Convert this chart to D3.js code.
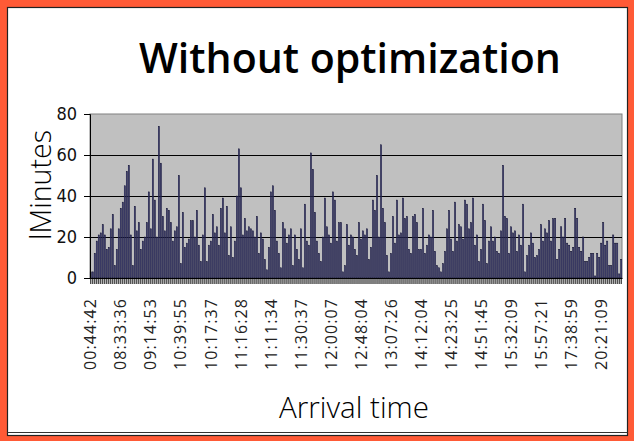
<!DOCTYPE html>
<html><head><meta charset="utf-8">
<script src="https://cdn.jsdelivr.net/npm/d3@7"></script>
<style>body{margin:0;background:#fff}svg{display:block}</style>
</head><body>
<script>
const values = [3,3,12,18,21,22,26,21,14,15,
24,31,6,14,24,34,37,45,52,55,
21,6,35,23,27,14,18,20,27,42,
24,58,38,20,74,56,30,
23,34,33,27,18,23,25,50,7,32,
15,17,19,28,28,20,33,16,8,21,
44,8,16,18,31,22,25,16,34,39,
22,35,11,25,10,18,40,63,44,21,29,
23,25,24,23,20,30,12,22,19,9,4,15,
42,45,33,18,12,5,27,24,17,21,
24,6,21,14,9,24,5,36,18,16,61,53,
32,18,12,8,20,39,25,21,17,42,38,18,
27,27,3,6,26,16,21,20,14,11,27,
19,23,21,24,9,15,38,33,50,20,65,
34,27,11,3,12,30,17,38,21,22,39,29,
30,14,12,30,31,27,14,14,34,12,16,
21,20,33,13,6,5,3,7,13,24,
33,19,13,37,18,26,25,19,38,36,
24,27,39,16,21,8,14,36,28,7,18,
25,18,20,13,12,23,55,30,29,12,
25,22,23,13,21,16,36,3,11,16,
22,17,10,11,14,26,18,24,22,28,18,
29,29,9,14,25,20,29,17,16,13,
15,34,29,15,13,20,8,8,10,12,
12,1,12,10,17,27,16,18,6,6,
21,17,17,2,9];
const tickLabels = ["00:44:42","08:33:36","09:14:53","10:39:55","10:17:37","11:16:28","11:11:34","11:30:37","12:00:07","12:48:04","13:07:26","14:12:04","14:23:25","14:51:45","15:32:09","15:57:21","17:38:59","20:21:09"];
const yTicks = [0,20,40,60,80];
const title = "Without optimization";
const yTitle = "lMinutes";
const xTitle = "Arrival time";

const W = 634, H = 441;
const N = values.length;
const labelStep = 15;
const cats = d3.range(N);
const catName = i => (i % labelStep === 0 && i/labelStep < tickLabels.length) ? tickLabels[i/labelStep] : "";

const svg = d3.select("body").append("svg").attr("width", W).attr("height", H);
svg.append("rect").attr("width", W).attr("height", H).attr("fill", "#FF5A36");
svg.append("rect").attr("x", 7.5).attr("y", 7.5).attr("width", 620).attr("height", 428)
  .attr("fill", "#fff").attr("stroke", "#222").attr("stroke-width", 1.2);
svg.append("line").attr("x1", 7.5).attr("x2", 627.5).attr("y1", 432.5).attr("y2", 432.5).attr("stroke", "#333");

const pl = 90, pr = 622, pt = 114, pb = 278;
const x = d3.scaleBand().domain(cats).range([pl, pr]).paddingInner(0.4).paddingOuter(0.1);
const y = d3.scaleLinear().domain([0, 80]).range([pb, pt]);

svg.append("rect").attr("x", pl).attr("y", pt).attr("width", pr - pl).attr("height", pb - pt)
  .attr("fill", "#c0c0c0").attr("stroke", "#808080").attr("stroke-width", 1);

svg.append("g").selectAll("line").data(yTicks.filter(d => d > 0 && d < 80)).join("line")
  .attr("x1", pl).attr("x2", pr).attr("y1", d => Math.round(y(d)) + 0.5).attr("y2", d => Math.round(y(d)) + 0.5)
  .attr("stroke", "#000").attr("stroke-width", 1);

svg.append("g").selectAll("rect").data(values).join("rect")
  .attr("x", (d, i) => x(i)).attr("width", x.bandwidth())
  .attr("y", d => y(d)).attr("height", d => pb - y(d))
  .attr("fill", "#45458a").attr("stroke", "#10102a").attr("stroke-width", 0.5);

const yAxis = svg.append("g").attr("transform", `translate(${pl},0)`)
  .call(d3.axisLeft(y).tickValues(yTicks).tickSize(6).tickPadding(7));
yAxis.select(".domain").attr("stroke", "#000");
yAxis.selectAll(".tick line").attr("stroke", "#000");
yAxis.selectAll("text").attr("font-family", "'DejaVu Sans Condensed', 'DejaVu Sans'").attr("font-size", 18).attr("fill", "#111");

const xAxis = svg.append("g").attr("transform", `translate(0,${pb})`)
  .call(d3.axisBottom(x).tickFormat(catName).tickSize(6).tickSizeOuter(0));
xAxis.select(".domain").attr("stroke", "#000");
xAxis.selectAll(".tick line").attr("stroke", "#000").attr("stroke-width", 1);
xAxis.selectAll("text")
  .attr("font-family", "'Open Sans', 'DejaVu Sans'").attr("font-weight", 400).attr("font-size", 16)
  .attr("letter-spacing", "1.1px").attr("fill", "#222")
  .attr("transform", "rotate(-90)").attr("text-anchor", "end")
  .attr("x", -20).attr("y", 0).attr("dy", "0.35em");

function fit(sel, w) {
  const l = sel.node().getComputedTextLength();
  const fs = parseFloat(sel.attr("font-size"));
  sel.attr("font-size", fs * w / l);
}
const t = svg.append("text").attr("x", 350).attr("y", 73).attr("text-anchor", "middle")
  .attr("font-family", "'Open Sans', 'DejaVu Sans'").attr("font-weight", 600).attr("font-size", 38).text(title);
fit(t, 422);

const yt = svg.append("text").attr("transform", "translate(51,185) rotate(-90)").attr("text-anchor", "middle")
  .attr("font-family", "'Open Sans', 'DejaVu Sans'").attr("font-weight", 300).attr("font-size", 26).attr("fill", "#000").text(yTitle);
fit(yt, 110);

const xt = svg.append("text").attr("x", 354).attr("y", 418).attr("text-anchor", "middle")
  .attr("font-family", "'Open Sans', 'DejaVu Sans'").attr("font-weight", 300).attr("font-size", 28).attr("fill", "#000").text(xTitle);
fit(xt, 150);
</script>
</body></html>
